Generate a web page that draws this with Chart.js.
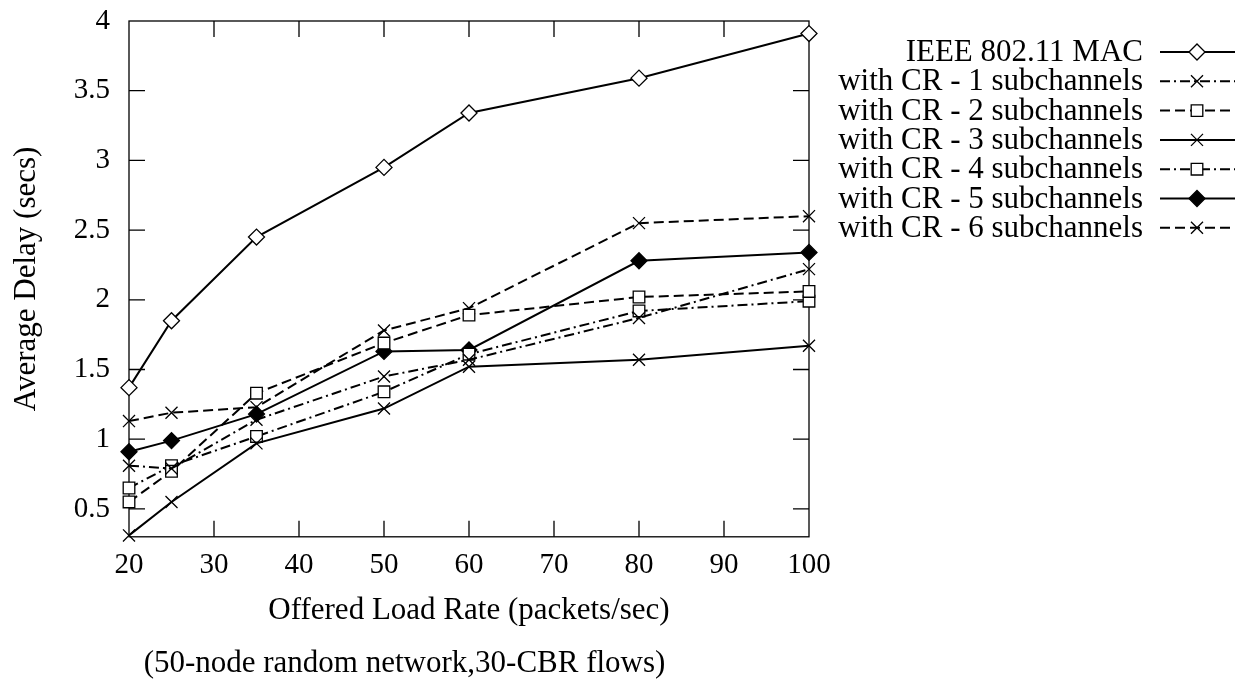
<!DOCTYPE html>
<html><head><meta charset="utf-8">
<script src="https://cdn.jsdelivr.net/npm/chart.js@4/dist/chart.umd.min.js"></script>
<style>html,body{margin:0;padding:0;background:#fff;} #wrap{width:1245px;height:683px;position:relative;}</style>
</head><body><div id="wrap"><canvas id="c"></canvas></div>
<script>
const loadRates = [20, 25, 35, 50, 60, 80, 100];
const ieee = [1.37, 1.85, 2.45, 2.95, 3.34, 3.59, 3.91];
const cr1 = [0.81, 0.79, 1.14, 1.45, 1.57, 1.87, 2.22];
const cr2 = [0.55, 0.77, 1.33, 1.69, 1.89, 2.02, 2.06];
const cr3 = [0.31, 0.55, 0.97, 1.22, 1.52, 1.57, 1.67];
const cr4 = [0.65, 0.81, 1.02, 1.34, 1.61, 1.92, 1.99];
const cr5 = [0.91, 0.99, 1.18, 1.63, 1.64, 2.28, 2.34];
const cr6 = [1.13, 1.19, 1.23, 1.78, 1.94, 2.55, 2.60];
const xTicks = [20, 30, 40, 50, 60, 70, 80, 90, 100];
const yTicks = [0.5, 1, 1.5, 2, 2.5, 3, 3.5, 4];
const seriesNames = ['IEEE 802.11 MAC', 'with CR - 1 subchannels', 'with CR - 2 subchannels',
  'with CR - 3 subchannels', 'with CR - 4 subchannels', 'with CR - 5 subchannels', 'with CR - 6 subchannels'];
const xTitle = 'Offered Load Rate (packets/sec)';
const yTitle = 'Average Delay (secs)';
const subTitle = '(50-node random network,30-CBR flows)';

const FONT = "'Liberation Serif', 'Times New Roman', serif";
const DASH = [10, 5];
const DASHDOT = [10, 4, 2, 4];
const styles = [
  {dash: [], pt: 'rectRot', r: 8, fill: '#fff'},
  {dash: DASHDOT, pt: 'crossRot', r: 8.5, fill: '#000'},
  {dash: DASH, pt: 'rect', r: 8.2, fill: '#fff'},
  {dash: [], pt: 'crossRot', r: 8.5, fill: '#000'},
  {dash: DASHDOT, pt: 'rect', r: 8.2, fill: '#fff'},
  {dash: [], pt: 'rectRot', r: 8, fill: '#000'},
  {dash: DASH, pt: 'crossRot', r: 8.5, fill: '#000'}
];
const allSeries = [ieee, cr1, cr2, cr3, cr4, cr5, cr6];

const datasets = allSeries.map((vals, i) => ({
  label: seriesNames[i],
  data: loadRates.map((x, j) => ({x: x, y: vals[j]})),
  borderColor: '#000',
  borderWidth: 2,
  borderDash: styles[i].dash,
  pointStyle: styles[i].pt,
  pointRadius: styles[i].r,
  pointBorderWidth: 1.3,
  pointBackgroundColor: styles[i].fill,
  pointBorderColor: '#000',
  tension: 0,
  fill: false,
  clip: false
}));

const framePlugin = {
  id: 'frame',
  beforeDatasetsDraw(chart) {
    const {ctx, chartArea: a, scales} = chart;
    ctx.save();
    ctx.strokeStyle = '#000';
    ctx.lineWidth = 1.3;
    ctx.setLineDash([]);
    ctx.strokeRect(a.left, a.top, a.right - a.left, a.bottom - a.top);
    const TL = 16;
    ctx.beginPath();
    xTicks.forEach(v => {
      if (v === scales.x.min || v === scales.x.max) return;
      const px = scales.x.getPixelForValue(v);
      ctx.moveTo(px, a.bottom); ctx.lineTo(px, a.bottom - TL);
      ctx.moveTo(px, a.top); ctx.lineTo(px, a.top + TL);
    });
    yTicks.forEach(v => {
      if (v >= scales.y.max) return;
      const py = scales.y.getPixelForValue(v);
      ctx.moveTo(a.left, py); ctx.lineTo(a.left + TL, py);
      ctx.moveTo(a.right, py); ctx.lineTo(a.right - TL, py);
    });
    ctx.stroke();
    ctx.restore();
  }
};

const legendPlugin = {
  id: 'gpLegend',
  afterDraw(chart) {
    const {ctx} = chart;
    ctx.save();
    ctx.font = '31px ' + FONT;
    ctx.textAlign = 'right';
    ctx.textBaseline = 'middle';
    ctx.fillStyle = '#000';
    const y0 = 52, step = 29.3, tx = 1143, lx0 = 1160, lx1 = 1235, mx = 1197;
    chart.data.datasets.forEach((ds, i) => {
      const y = y0 + i * step;
      ctx.fillText(ds.label, tx, y + 1);
      ctx.save();
      ctx.strokeStyle = '#000';
      ctx.lineWidth = 2;
      ctx.setLineDash(ds.borderDash);
      ctx.beginPath(); ctx.moveTo(lx0, y); ctx.lineTo(lx1, y); ctx.stroke();
      ctx.restore();
      ctx.save();
      ctx.strokeStyle = '#000';
      ctx.fillStyle = ds.pointBackgroundColor;
      ctx.lineWidth = 1.3;
      ctx.setLineDash([]);
      Chart.helpers.drawPoint(ctx, {pointStyle: ds.pointStyle, radius: ds.pointRadius, borderWidth: 1.3, rotation: 0}, mx, y);
      ctx.restore();
    });
    ctx.restore();
  }
};

new Chart(document.getElementById('c'), {
  type: 'line',
  data: {datasets: datasets},
  options: {
    responsive: true,
    maintainAspectRatio: false,
    animation: false,
    events: [],
    layout: {padding: {left: 0, top: 21, right: 436, bottom: 0}},
    plugins: {
      legend: {display: false},
      tooltip: {enabled: false},
      title: {display: false},
      subtitle: {
        display: true, position: 'bottom', text: subTitle, color: '#000',
        font: {family: FONT, size: 31, weight: 'normal'},
        padding: {top: 0, bottom: 1}
      }
    },
    scales: {
      x: {
        type: 'linear', min: 20, max: 100,
        afterBuildTicks: s => { s.ticks = xTicks.map(v => ({value: v})); },
        afterFit: s => { s.height = 108; s.paddingLeft = 0; s.paddingRight = 0; },
        grid: {display: false, drawTicks: false},
        border: {display: false},
        ticks: {color: '#000', font: {family: FONT, size: 29}, padding: 11, maxRotation: 0, autoSkip: false,
          callback: v => String(v)},
        title: {display: true, text: xTitle, color: '#000', font: {family: FONT, size: 31},
          padding: {top: 0, bottom: 15}}
      },
      y: {
        type: 'linear', min: 0.3, max: 4,
        afterBuildTicks: s => { s.ticks = yTicks.map(v => ({value: v})); },
        afterFit: s => { s.width = 129; s.paddingTop = 0; s.paddingBottom = 0; },
        grid: {display: false, drawTicks: false},
        border: {display: false},
        ticks: {color: '#000', font: {family: FONT, size: 29}, padding: 19, autoSkip: false,
          callback: v => String(v)},
        title: {display: true, text: yTitle, color: '#000', font: {family: FONT, size: 31},
          padding: {top: 8, bottom: 0}}
      }
    }
  },
  plugins: [framePlugin, legendPlugin]
});
</script></body></html>
